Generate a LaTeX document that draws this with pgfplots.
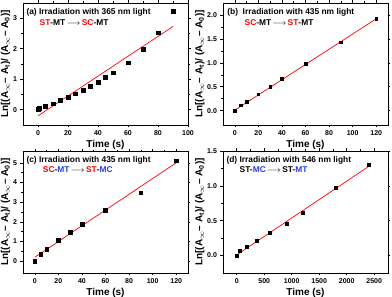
\documentclass[border=0pt]{standalone}
\usepackage{pgfplots}
\pgfplotsset{compat=1.18}
\usepackage{fontspec}
\setmainfont{Liberation Sans}
\definecolor{mred}{RGB}{255,0,0}
\definecolor{mblue}{RGB}{40,60,235}
\newcommand\ylab{Ln[(A\textsubscript{$\infty$}– A\textsubscript{t})/ (A\textsubscript{$\infty$}– A\textsubscript{0})]}
\newcommand\arr{\,$\longrightarrow$\,}
\tikzset{ann/.style={anchor=west, font=\bfseries\fontsize{8.4}{9}\selectfont, inner sep=0pt}}
\pgfplotsset{
  panel/.style={
    scale only axis, width=165pt, height=122pt,
    /pgf/number format/assume math mode=true,
    tick label style={font=\bfseries\fontsize{7}{8}\selectfont},
    label style={font=\bfseries\fontsize{10}{11}\selectfont},
    tick align=outside, minor tick num=1,
    major tick length=2.5pt, minor tick length=1.5pt,
    every tick/.style={black, line width=0.5pt},
    axis line style={line width=0.7pt},
    xlabel={Time (s)},
    ylabel={\ylab},
    xlabel style={yshift=3pt},
    ylabel style={yshift=-4pt},
    clip=false,
  },
  pts/.style={only marks, mark=square*, mark size=1.8pt, black},
  fit/.style={no marks, mred, line width=0.7pt},
}
\begin{document}
\begin{tikzpicture}
\useasboundingbox (0pt,0pt) rectangle (392pt,297pt);
% (a)
\begin{axis}[panel, at={(23pt,172pt)}, anchor=south west,
  xmin=-10, xmax=100, ymin=-0.5, ymax=3.5,
  xtick={0,20,...,100}, ytick={0,1,2,3}]
\addplot[fit] coordinates {(0,-0.2) (90,2.73)};
\addplot[pts] coordinates {
(0,0.02) (1,0.06) (5,0.12) (10,0.20) (15,0.31) (20,0.42) (25,0.53) (30,0.65)
(35,0.77) (40,0.91) (45,1.06) (50,1.22) (60,1.54) (70,1.98) (80,2.52) (90,3.23)};
\node[ann] at (rel axis cs:0.02,0.925) {(a) Irradiation with 365 nm light};
\node[ann] at (rel axis cs:0.10,0.84) {\textcolor{mred}{ST}-MT\arr\textcolor{mred}{SC}-MT};
\end{axis}
% (b)
\begin{axis}[panel, at={(223pt,172pt)}, anchor=south west,
  xmin=-10, xmax=130, ymin=-0.3, ymax=2.25,
  xtick={0,20,...,120}, ytick={0,0.5,...,2.0},
  yticklabel style={/pgf/number format/.cd, fixed, fixed zerofill, precision=1}]
\addplot[fit] coordinates {(0,0.01) (120,1.92)};
\addplot[pts, mark size=1.3pt] coordinates {
(0,0.0) (5,0.11) (10,0.19) (20,0.34) (30,0.50) (40,0.67) (60,0.98) (90,1.43) (120,1.92)};
\node[ann] at (rel axis cs:0.025,0.925) {(b)\ \ Irradiation with 435 nm light};
\node[ann] at (rel axis cs:0.13,0.84) {\textcolor{mred}{SC}-MT\arr\textcolor{mred}{ST}-MT};
\end{axis}
% (c)
\begin{axis}[panel, at={(23pt,24pt)}, anchor=south west,
  xmin=-10, xmax=130, ymin=-0.6, ymax=5.6,
  xtick={0,20,...,120}, ytick={0,1,...,5}]
\addplot[fit] coordinates {(0,0.2) (120,5.0)};
\addplot[pts] coordinates {
(0,0.0) (5,0.37) (10,0.62) (20,1.06) (30,1.48) (40,1.87) (60,2.59) (90,3.48) (120,5.10)};
\node[ann] at (rel axis cs:0.02,0.92) {(c)\ Irradiation with 435 nm light};
\node[ann] at (rel axis cs:0.12,0.845) {\textcolor{mred}{SC}-\textcolor{mblue}{MT}\arr\textcolor{mred}{ST}-\textcolor{mblue}{MC}};
\end{axis}
% (d)
\begin{axis}[panel, at={(223pt,24pt)}, anchor=south west,
  xmin=-250, xmax=2750, ymin=-0.25, ymax=1.5,
  xtick={0,500,...,2500}, ytick={0,0.5,...,1.5},
  yticklabel style={/pgf/number format/.cd, fixed, fixed zerofill, precision=1},
  xticklabel style={/pgf/number format/.cd, 1000 sep={}}]
\addplot[fit] coordinates {(0,0.01) (2400,1.28)};
\addplot[pts, mark size=1.5pt] coordinates {
(0,0.0) (60,0.07) (180,0.13) (360,0.21) (600,0.33) (900,0.45) (1200,0.62) (1800,0.97) (2400,1.30)};
\node[ann] at (rel axis cs:0.02,0.92) {(d) Irradiation with 546 nm light};
\node[ann] at (rel axis cs:0.10,0.845) {ST-\textcolor{mblue}{MC}\arr ST-\textcolor{mblue}{MT}};
\end{axis}
\end{tikzpicture}
\end{document}
